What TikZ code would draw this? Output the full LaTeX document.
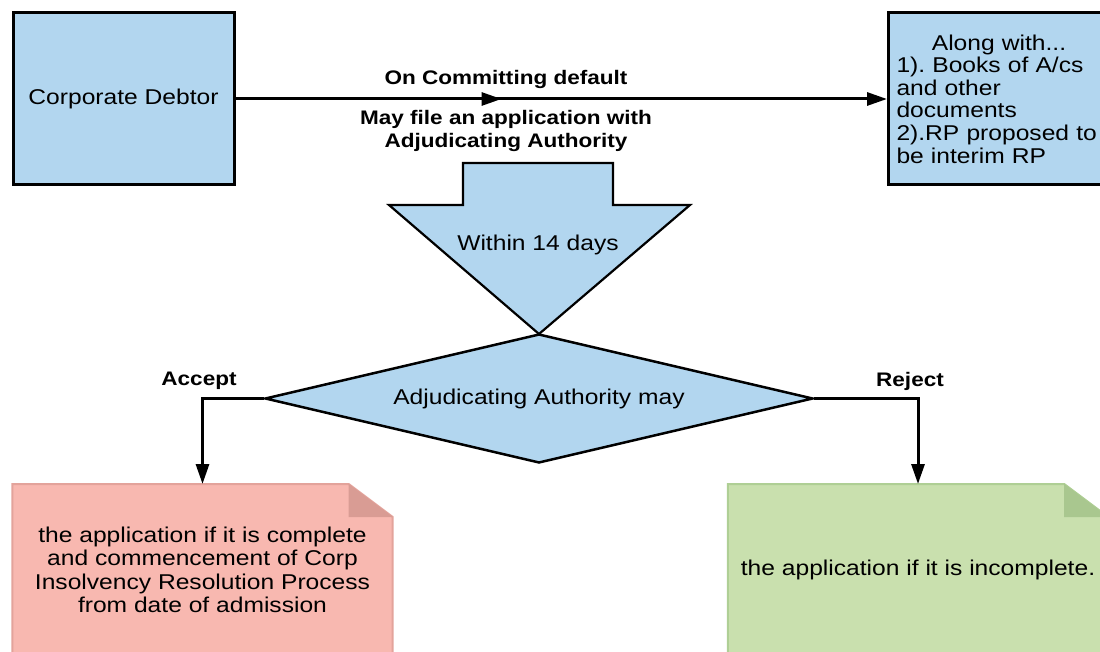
\documentclass[tikz,border=0pt]{standalone}
\usepackage{fontspec}
\setmainfont{Liberation Sans}[FakeStretch=1.15]
\usetikzlibrary{arrows.meta,shapes.geometric,decorations.markings,backgrounds}
\definecolor{boxblue}{HTML}{B2D6EF}
\definecolor{notepink}{HTML}{F8B8B0}
\definecolor{pinkfold}{HTML}{D99C94}
\definecolor{pinkedge}{HTML}{E3A39B}
\definecolor{notegreen}{HTML}{C9E0AE}
\definecolor{greenfold}{HTML}{A9C78F}
\definecolor{greenedge}{HTML}{AFCF95}
\frenchspacing
\begin{document}
\begin{tikzpicture}[x=1pt,y=-1pt,
 every node/.style={font=\fontsize{21.4}{23.5}\selectfont, inner sep=0pt},
 bluebox/.style={draw=black, line width=3pt, fill=boxblue},
 lbl/.style={font=\fontsize{19.6}{23}\selectfont\bfseries},
 conn/.style={line width=3pt, -{Triangle[length=20pt,width=13pt]}},
 notebox/.style={minimum width=380pt, minimum height=171pt, anchor=north, align=center},
]
\useasboundingbox (0,0) rectangle (1100,652);
\clip (0,0) rectangle (1100,652);

% top boxes
\node[bluebox, minimum width=221pt, minimum height=172pt] (cd) at (123.5,99) {Corporate Debtor};
\node[bluebox, minimum width=221pt, minimum height=172pt, text width=205pt, align=left, anchor=west,
 font=\fontsize{21.4}{22.6}\selectfont] (along) at (887,99)
 {\makebox[205pt][c]{Along with...}\\1). Books of A/cs\\and other\\documents\\2).RP proposed to\\be interim RP};

% main connector with mid arrow
\draw[conn, postaction={decorate},
 decoration={markings, mark=at position 266pt with {\arrow{Triangle[length=20pt,width=13pt]}}}]
 (cd.east) -- (along.west);
\node[lbl] (lab1) at (506,79) {On Committing default};
\node[lbl, align=center] (lab2) at (506,131) {May file an application with\\Adjudicating Authority};

% block arrow
\filldraw[fill=boxblue, draw=black, line width=2.2pt, line join=miter]
 (463,163) -- (613,163) -- (613,205) -- (690,205) -- (539,334) -- (389,205) -- (463,205) -- cycle;
\node (within) at (538,245) {Within 14 days};

% decision
\node[diamond, draw=black, line width=2.5pt, fill=boxblue, aspect=4.25,
 minimum width=548pt, minimum height=129pt] (dec) at (539,398.5) {Adjudicating Authority may};

% notes
\node[notebox] (acc) at (202.5,484)
 {the application if it is complete\\and commencement of Corp\\Insolvency Resolution Process\\from date of admission};
\node[notebox] (rej) at (918,484) {the application if it is incomplete.};

\begin{scope}[on background layer]
\filldraw[fill=notepink, draw=pinkedge, line width=2pt]
 (acc.south west) -- (acc.north west) -- ([xshift=-44pt]acc.north east) -- ([yshift=-33pt]acc.north east) -- (acc.south east) -- cycle;
\fill[pinkfold] ([xshift=-44pt]acc.north east) -- ([xshift=-44pt,yshift=-33pt]acc.north east) -- ([yshift=-33pt]acc.north east) -- cycle;
\filldraw[fill=notegreen, draw=greenedge, line width=2pt]
 (rej.south west) -- (rej.north west) -- ([xshift=-44pt]rej.north east) -- ([yshift=-33pt]rej.north east) -- (rej.south east) -- cycle;
\fill[greenfold] ([xshift=-44pt]rej.north east) -- ([xshift=-44pt,yshift=-33pt]rej.north east) -- ([yshift=-33pt]rej.north east) -- cycle;
\end{scope}

% decision branches
\draw[conn] (dec.west) -| (acc.north);
\draw[conn] (dec.east) -| (rej.north);
\node[lbl] (acclbl) at (199,381) {Accept};
\node[lbl] (rejlbl) at (910,381) {Reject};
\end{tikzpicture}
\end{document}
